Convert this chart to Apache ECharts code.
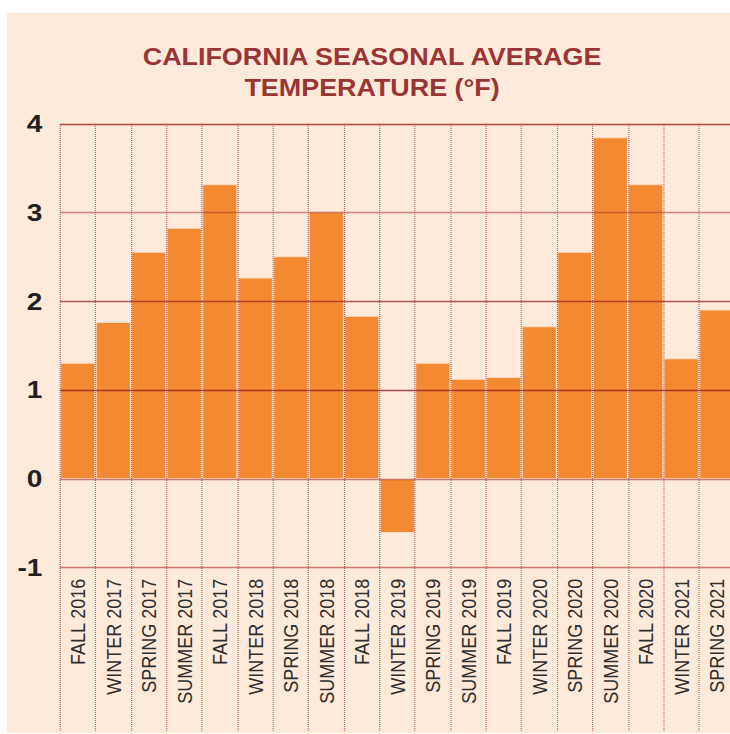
<!DOCTYPE html>
<html>
<head>
<meta charset="utf-8">
<script src="https://cdn.jsdelivr.net/npm/echarts@6/dist/echarts.min.js"></script>
<style>
  html, body { margin: 0; padding: 0; background: #ffffff; overflow: hidden; }
  #wrap { width: 730px; height: 734px; overflow: hidden; position: relative; }
  #chart { width: 640px; height: 734px; transform: scaleX(1.17); transform-origin: 0 0; position: absolute; left: 0; top: 0; }
</style>
</head>
<body>
<div id="wrap"><div id="chart"></div></div>
<script>
const titleLines = ['CALIFORNIA SEASONAL AVERAGE', 'TEMPERATURE (°F)'];
const categories = ['FALL 2016', 'WINTER 2017', 'SPRING 2017', 'SUMMER 2017', 'FALL 2017',
  'WINTER 2018', 'SPRING 2018', 'SUMMER 2018', 'FALL 2018', 'WINTER 2019',
  'SPRING 2019', 'SUMMER 2019', 'FALL 2019', 'WINTER 2020', 'SPRING 2020',
  'SUMMER 2020', 'FALL 2020', 'WINTER 2021', 'SPRING 2021'];
const anomalies = [1.31, 1.77, 2.56, 2.83, 3.32, 2.27, 2.51, 3.01, 1.84, -0.61,
  1.31, 1.13, 1.15, 1.72, 2.56, 3.85, 3.32, 1.36, 1.91];
const yMin = -1, yMax = 4, yStep = 1;

const chart = echarts.init(document.getElementById('chart'), null, { renderer: 'svg' });
chart.setOption({
  backgroundColor: 'transparent',
  animation: false,
  graphic: [{
    type: 'rect', z: -10, silent: true,
    shape: { x: 6, y: 13, width: 700, height: 720 },
    style: { fill: '#fdeadb' }
  }],
  title: {
    text: titleLines.join('\n'),
    left: 318, top: 41, padding: 0,
    textAlign: 'center',
    textStyle: {
      fontFamily: 'Liberation Sans, Arial, sans-serif',
      fontWeight: 'bold', fontSize: 23, lineHeight: 31, color: '#9b3434'
    }
  },
  grid: [
    { left: 51.3, width: 576.5, top: 124, bottom: 166.3, outerBoundsMode: 'none', containLabel: false },
    { left: 51.3, width: 576.5, top: 124, bottom: 3, outerBoundsMode: 'none', containLabel: false }
  ],
  xAxis: [{
    type: 'category', gridIndex: 0, data: categories,
    axisLine: { show: false }, axisTick: { show: false },
    splitLine: { show: false },
    axisLabel: {
      rotate: 90, margin: 11, interval: 0,
      fontFamily: 'Liberation Sans, Arial, sans-serif',
      fontSize: 18, color: '#2e2e2e'
    }
  }, {
    type: 'category', gridIndex: 1, data: categories, z: 4,
    axisLine: { show: false }, axisTick: { show: false }, axisLabel: { show: false },
    splitLine: { show: true, interval: 0, lineStyle: { color: 'rgba(178,50,50,0.75)', width: 1, type: [1, 1] } }
  }],
  yAxis: [{
    type: 'value', gridIndex: 0, min: yMin, max: yMax, interval: yStep, z: 5,
    axisLine: { show: false }, axisTick: { show: false },
    axisLabel: {
      margin: 15,
      fontFamily: 'Liberation Sans, Arial, sans-serif',
      fontWeight: 'bold', fontSize: 24, color: '#231f20'
    },
    splitLine: {
      show: true,
      lineStyle: {
        width: 1.3,
        color: ['rgba(170,45,40,0.6)', 'rgba(170,45,40,0.6)', 'rgba(150,30,40,0.8)',
                'rgba(160,35,35,0.75)', 'rgba(170,50,45,0.55)', 'rgba(170,40,40,0.85)']
      }
    }
  }, {
    type: 'value', gridIndex: 1, min: 0, max: 1, show: false
  }],
  series: [{
    type: 'bar', xAxisIndex: 0, yAxisIndex: 0, data: anomalies,
    barCategoryGap: '0%',
    itemStyle: { color: '#f38a31', borderColor: '#fbdcc4', borderWidth: 1 }
  }]
});
</script>
</body>
</html>
